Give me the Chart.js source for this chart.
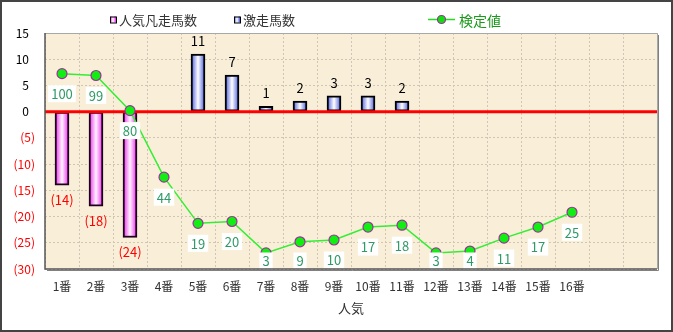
<!DOCTYPE html>
<html><head><meta charset="utf-8">
<script src="https://cdn.jsdelivr.net/npm/chart.js@4.4.1/dist/chart.umd.min.js"></script>
<style>html,body{margin:0;padding:0;background:#fff}#wrap{width:673px;height:332px;position:relative}</style>
</head><body><div id="wrap"><canvas id="c" width="673" height="332"></canvas></div>
<script>
const categories = ['1番','2番','3番','4番','5番','6番','7番','8番','9番','10番','11番','12番','13番','14番','15番','16番','',''];
const popularFailCount = [-14,-18,-24,null,null,null,null,null,null,null,null,null,null,null,null,null,null,null];
const upsetCount = [null,null,null,null,11,7,1,2,3,3,2,null,null,null,null,null,null,null];
const scoreValues = [100,99,80,44,19,20,3,9,10,17,18,3,4,11,17,25,null,null];
const seriesNames = ['人気凡走馬数','激走馬数','検定値'];
const xTitle = '人気';

const FONT = "'Noto Sans CJK JP', 'Noto Sans', sans-serif";
Chart.defaults.font.family = FONT;

function barGrad(edge, mid){
  return function(ctx){
    const ch = ctx.chart;
    const xs = ch.scales && ch.scales.x;
    if (!xs || ctx.type !== 'data' || xs.width === undefined) return edge;
    const x = xs.getPixelForValue(ctx.dataIndex);
    const g = ch.ctx.createLinearGradient(x-7,0,x+7,0);
    g.addColorStop(0, edge); g.addColorStop(0.5, mid); g.addColorStop(1, edge);
    return g;
  };
}
const PINK = '#ee22ee', BLUE = '#4456dd';

const decor = {
  id:'decor',
  beforeDraw(chart){
    const {ctx, chartArea:a} = chart;
    ctx.save();
    ctx.fillStyle = '#fff'; ctx.fillRect(0,0,chart.width,chart.height);
    ctx.fillStyle = '#f9efd9'; ctx.fillRect(a.left,a.top,a.right-a.left,a.bottom-a.top);
    ctx.restore();
  },
  beforeDatasetDraw(chart, args){
    if (args.meta.type !== 'line') return;
    const {ctx, chartArea:a} = chart;
    const y0 = chart.scales.y.getPixelForValue(0);
    ctx.save();
    ctx.strokeStyle = '#ff0000'; ctx.lineWidth = 3;
    ctx.beginPath(); ctx.moveTo(a.left, y0); ctx.lineTo(a.right, y0); ctx.stroke();
    ctx.restore();
  },
  afterDatasetsDraw(chart){
    const ctx = chart.ctx;
    ctx.save();
    ctx.font = '13px ' + FONT;
    ctx.textAlign = 'center'; ctx.textBaseline = 'middle';
    [0,1].forEach(di => {
      const meta = chart.getDatasetMeta(di);
      const data = chart.data.datasets[di].data;
      meta.data.forEach((el,i) => {
        const v = data[i];
        if (v === null || v === undefined) return;
        if (v >= 0){ ctx.fillStyle = '#000'; ctx.fillText(String(v), el.x, el.y - 13); }
        else { ctx.fillStyle = '#ff0000'; ctx.fillText('(' + (-v) + ')', el.x, el.y + 15); }
      });
    });
    const meta = chart.getDatasetMeta(2);
    const a = chart.chartArea;
    meta.data.forEach((el,i) => {
      const v = scoreValues[i];
      if (v === null || v === undefined) return;
      const t = String(v);
      const w = ctx.measureText(t).width + 6;
      const cy = Math.min(el.y + 20, a.bottom - 8);
      ctx.fillStyle = '#fff';
      ctx.fillRect(el.x - w/2, cy - 8.5, w, 17);
      ctx.fillStyle = '#2f9a66';
      ctx.fillText(t, el.x, cy + 0.5);
    });
    ctx.restore();
  },
  afterDraw(chart){
    const ctx = chart.ctx, a = chart.chartArea;
    ctx.save();
    ctx.strokeStyle = '#a8a8a8'; ctx.lineWidth = 1;
    ctx.beginPath(); ctx.moveTo(a.left, a.top+0.5); ctx.lineTo(a.right+0.5, a.top+0.5); ctx.lineTo(a.right+0.5, a.bottom); ctx.stroke();
    ctx.strokeStyle = '#808080';
    ctx.beginPath(); ctx.moveTo(a.right+1.5, a.top+2); ctx.lineTo(a.right+1.5, a.bottom+1.5); ctx.lineTo(a.left+2, a.bottom+1.5); ctx.stroke();
    ctx.strokeStyle = '#555'; ctx.lineWidth = 1.5;
    ctx.beginPath(); ctx.moveTo(a.left, a.top); ctx.lineTo(a.left, a.bottom); ctx.lineTo(a.right, a.bottom); ctx.stroke();
    ctx.font = '13px ' + FONT; ctx.textBaseline = 'middle'; ctx.textAlign = 'left';
    const ly = 19.5;
    function sq(x, edge){
      const g = ctx.createLinearGradient(x,0,x+6,0);
      g.addColorStop(0, edge); g.addColorStop(0.5,'#fff'); g.addColorStop(1, edge);
      ctx.fillStyle = g; ctx.fillRect(x, ly-3, 6, 6);
      ctx.strokeStyle = '#000'; ctx.lineWidth = 1; ctx.strokeRect(x+0.5, ly-3+0.5, 6, 6);
    }
    sq(110, PINK); ctx.fillStyle = '#333'; ctx.fillText(seriesNames[0], 119, ly+1);
    sq(234, BLUE); ctx.fillStyle = '#333'; ctx.fillText(seriesNames[1], 243, ly+1);
    ctx.strokeStyle = '#22dd22'; ctx.lineWidth = 1.5;
    ctx.beginPath(); ctx.moveTo(428, ly); ctx.lineTo(455, ly); ctx.stroke();
    ctx.beginPath(); ctx.arc(441.5, ly, 4, 0, Math.PI*2);
    ctx.fillStyle = '#11dd11'; ctx.fill(); ctx.strokeStyle = '#993399'; ctx.lineWidth = 1.2; ctx.stroke();
    ctx.font = '14px ' + FONT; ctx.fillStyle = '#1a991a'; ctx.fillText(seriesNames[2], 459, ly+1);
    ctx.strokeStyle = '#444'; ctx.lineWidth = 2;
    ctx.strokeRect(1, 1, chart.width-2, chart.height-2);
    ctx.restore();
  }
};

new Chart(document.getElementById('c'), {
  data: {
    labels: categories,
    datasets: [
      { type:'bar', label: seriesNames[0], data: popularFailCount, order: 2, grouped:false, barThickness:14,
        backgroundColor: barGrad(PINK, '#fff4ff'), borderColor:'#1a001a', borderWidth:2, borderSkipped:false, yAxisID:'y' },
      { type:'bar', label: seriesNames[1], data: upsetCount, order: 1, grouped:false, barThickness:14,
        backgroundColor: barGrad(BLUE, '#ffffff'), borderColor:'#000', borderWidth:2, borderSkipped:false, yAxisID:'y' },
      { type:'line', label: seriesNames[2], data: scoreValues, order: 0, yAxisID:'y2',
        borderColor:'#33ee33', borderWidth:1.5, tension:0, pointRadius:5, pointBackgroundColor:'#11ee11',
        pointBorderColor:'#993399', pointBorderWidth:1.2, spanGaps:false }
    ]
  },
  options: {
    responsive:false, animation:false,
    layout:{ padding:{ left:0, right:16, top:33, bottom:0 } },
    plugins:{ legend:{display:false}, tooltip:{enabled:false} },
    scales:{
      x:{
        offset:true,
        grid:{ offset:true, color:'#cfc6b4', drawTicks:false },
        border:{ display:false, dash:[2,2] },
        ticks:{ color:'#333', font:{size:12, family:FONT}, padding:10, maxRotation:0, autoSkip:false },
        title:{ display:true, text:xTitle, color:'#333', font:{size:13, family:FONT}, padding:{top:2, bottom:16} },
        afterFit(s){ s.height = 63; }
      },
      y:{
        min:-30, max:15,
        ticks:{ stepSize:5, padding:10, font:{size:12, family:FONT},
          color: c => (c.tick && c.tick.value < 0) ? '#ff0000' : '#000',
          callback: v => v < 0 ? '(' + (-v) + ')' : v + '\u2002' },
        grid:{ color:'#cfc6b4', drawTicks:false },
        border:{ display:false, dash:[2,2] },
        afterFit(s){ s.width = 45; }
      },
      y2:{ display:false, min:-5.7, max:122, position:'right', grid:{display:false} }
    }
  },
  plugins:[decor]
});
</script></body></html>
